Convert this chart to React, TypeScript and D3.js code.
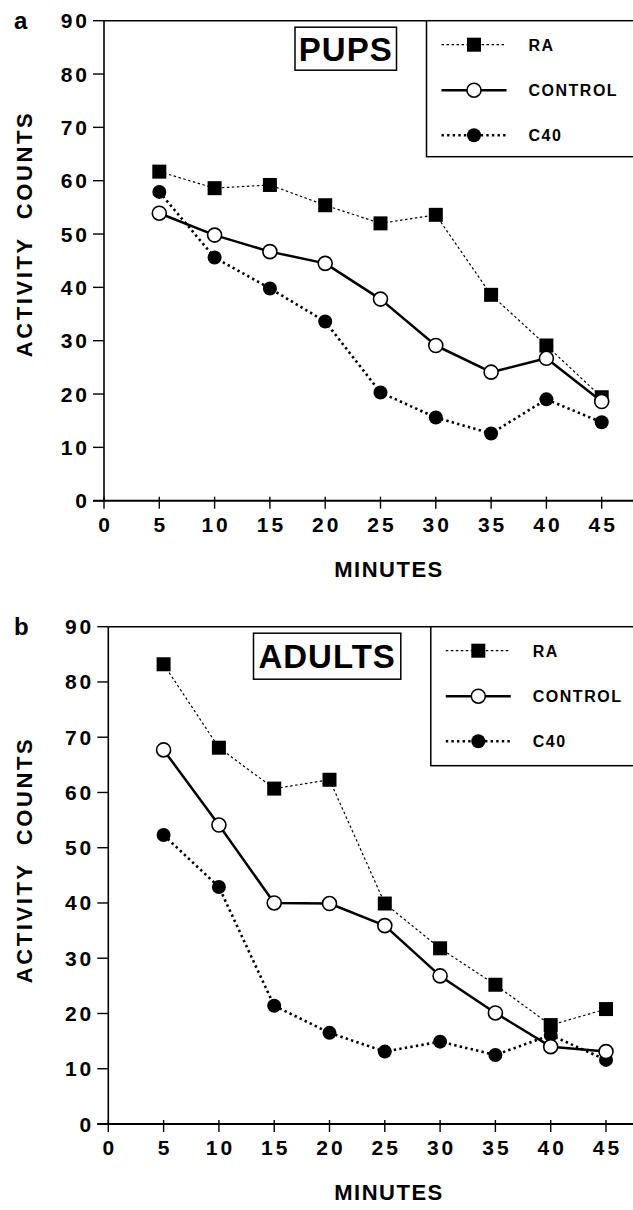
import React from "react";
import * as d3 from "d3";

// minutes after injection
const minutes = [5, 10, 15, 20, 25, 30, 35, 40, 45];
const xTicks = [0, 5, 10, 15, 20, 25, 30, 35, 40, 45];
const yTicks = [0, 10, 20, 30, 40, 50, 60, 70, 80, 90];
const seriesNames = ["RA", "CONTROL", "C40"];

// panel a - pups
const pupsRA = [61.7, 58.6, 59.2, 55.4, 52.0, 53.6, 38.6, 29.1, 19.4];
const pupsControl = [53.9, 49.8, 46.7, 44.5, 37.8, 29.1, 24.1, 26.7, 18.6];
const pupsC40 = [57.9, 45.6, 39.8, 33.6, 20.3, 15.6, 12.6, 19.0, 14.7];

// panel b - adults
const adultsRA = [83.2, 68.1, 60.7, 62.3, 39.9, 31.8, 25.2, 17.9, 20.8];
const adultsControl = [67.7, 54.1, 40.0, 39.9, 35.9, 26.8, 20.1, 14.0, 13.1];
const adultsC40 = [52.3, 42.9, 21.4, 16.5, 13.1, 14.9, 12.5, 16.1, 11.6];

const FONT = "'Liberation Sans', Arial, Helvetica, sans-serif";

const styles: Record<string, { width: number; dash: string | null; marker: string }> = {
  RA: { width: 1.2, dash: "2.5,2.5", marker: "square" },
  CONTROL: { width: 2.5, dash: null, marker: "open" },
  C40: { width: 2.6, dash: "2.4,3.2", marker: "dot" },
};

function Marker({ kind, x, y }: { kind: string; x: number; y: number }) {
  if (kind === "square") {
    return <rect x={x - 7} y={y - 7} width={14} height={14} fill="#000" />;
  }
  if (kind === "open") {
    return <circle cx={x} cy={y} r={7} fill="#fff" stroke="#000" strokeWidth={1.6} />;
  }
  return <circle cx={x} cy={y} r={7} fill="#000" />;
}

type PanelProps = {
  letter: string;
  title: string;
  x0: number;
  yTop: number;
  yBottom: number;
  step: number;
  titleLeft: number;
  titleH: number;
  yTitleY: number;
  data: Record<string, number[]>;
};

function Panel(p: PanelProps) {
  const x = d3.scaleLinear().domain([0, 45]).range([p.x0, p.x0 + p.step * 9]);
  const y = d3.scaleLinear().domain([0, 90]).range([p.yBottom, p.yTop]);
  const line = d3
    .line<number>()
    .x((_, i) => x(minutes[i]))
    .y((d) => y(d));

  const legX = p.x0 + 322.5;
  const legRows = [24, 69.5, 114.5];
  const legH = p.yBottom - p.yTop > 490 ? 139 : 136;

  const drawOrder = ["C40", "RA", "CONTROL"];

  return (
    <g fontFamily={FONT} fontWeight="bold" fill="#000">
      {/* panel letter */}
      <text x={14} y={p.yTop + 8} fontSize={24}>
        {p.letter}
      </text>

      {/* frame: top line and y axis */}
      <line x1={p.x0} x2={700} y1={p.yTop} y2={p.yTop} stroke="#000" strokeWidth={1.5} />
      <line x1={p.x0} x2={p.x0} y1={p.yTop} y2={p.yBottom} stroke="#000" strokeWidth={1.6} />
      <line x1={p.x0 - 11} x2={700} y1={p.yBottom} y2={p.yBottom} stroke="#000" strokeWidth={2} />

      {yTicks.map((t) => (
        <g key={"y" + t}>
          <line x1={p.x0 - 11} x2={p.x0} y1={y(t)} y2={y(t)} stroke="#000" strokeWidth={1.4} />
          <text
            x={p.x0 - 14}
            y={y(t) + 7.5}
            fontSize={21}
            textAnchor="end"
            letterSpacing={3}
          >
            {t}
          </text>
        </g>
      ))}

      {xTicks.map((t) => (
        <g key={"x" + t}>
          <line x1={x(t)} x2={x(t)} y1={p.yBottom - 4} y2={p.yBottom + 8} stroke="#000" strokeWidth={1.4} />
          <text x={x(t) + 1.5} y={p.yBottom + 31} fontSize={21} textAnchor="middle" letterSpacing={3}>
            {t}
          </text>
        </g>
      ))}

      <text x={389} y={p.yBottom + 76} fontSize={22} textAnchor="middle" letterSpacing={1.5}>
        MINUTES
      </text>

      <text
        transform={`translate(32,${p.yTitleY}) rotate(-90)`}
        fontSize={22}
        textAnchor="middle"
        letterSpacing={2.6}
        style={{ whiteSpace: "pre" }}
      >
        {"ACTIVITY  COUNTS"}
      </text>

      {/* title box */}
      <rect
        x={p.titleLeft}
        y={p.yTop + 6.5}
        width={p.x0 + 292.5 - p.titleLeft}
        height={p.titleH}
        fill="#fff"
        stroke="#000"
        strokeWidth={1.5}
      />
      <text
        x={(p.titleLeft + p.x0 + 292.5) / 2}
        y={p.yTop + 6.5 + p.titleH / 2 + 12}
        fontSize={33}
        textAnchor="middle"
        letterSpacing={1}
      >
        {p.title}
      </text>

      {/* legend */}
      <rect x={legX} y={p.yTop} width={300} height={legH} fill="#fff" stroke="#000" strokeWidth={1.5} />
      {seriesNames.map((name, i) => {
        const st = styles[name];
        const ly = p.yTop + legRows[i];
        return (
          <g key={"leg" + name}>
            <line
              x1={legX + 15}
              x2={legX + 80}
              y1={ly}
              y2={ly}
              stroke="#000"
              strokeWidth={st.width}
              strokeDasharray={st.dash ?? undefined}
            />
            <Marker kind={st.marker} x={legX + 47.5} y={ly} />
            <text x={legX + 102} y={ly + 6} fontSize={16} letterSpacing={1.5}>
              {name}
            </text>
          </g>
        );
      })}

      {/* series */}
      {drawOrder.map((name) => {
        const st = styles[name];
        const vals = p.data[name];
        return (
          <g key={"s" + name}>
            <path
              d={line(vals) ?? ""}
              fill="none"
              stroke="#000"
              strokeWidth={st.width}
              strokeDasharray={st.dash ?? undefined}
              strokeLinejoin="round"
            />
            {vals.map((v, i) => (
              <Marker key={i} kind={st.marker} x={x(minutes[i])} y={y(v)} />
            ))}
          </g>
        );
      })}
    </g>
  );
}

export default function App() {
  return (
    <svg
      width={633}
      height={1210}
      style={{ position: "absolute", left: 0, top: 0, background: "#fff" }}
    >
      <rect width={633} height={1210} fill="#fff" />
      <Panel
        letter="a"
        title="PUPS"
        x0={104}
        yTop={20.7}
        yBottom={500.7}
        step={55.3}
        titleLeft={295}
        titleH={43}
        yTitleY={234}
        data={{ RA: pupsRA, CONTROL: pupsControl, C40: pupsC40 }}
      />
      <Panel
        letter="b"
        title="ADULTS"
        x0={108.3}
        yTop={626.7}
        yBottom={1124}
        step={55.3}
        titleLeft={253.5}
        titleH={46}
        yTitleY={860}
        data={{ RA: adultsRA, CONTROL: adultsControl, C40: adultsC40 }}
      />
    </svg>
  );
}
